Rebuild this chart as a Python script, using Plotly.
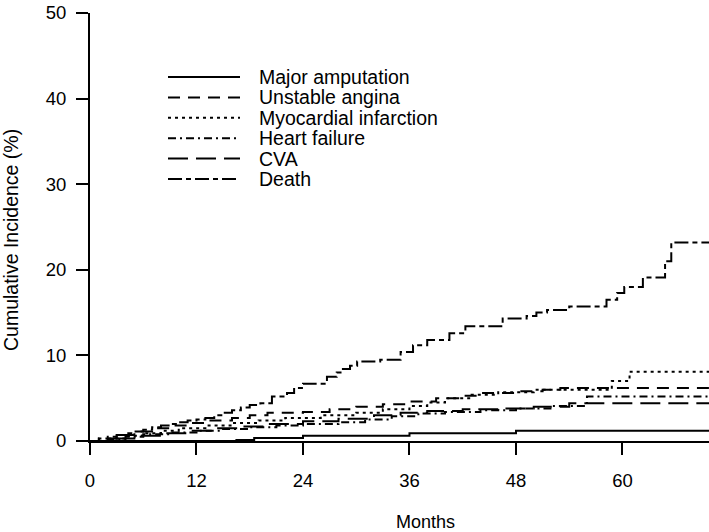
import plotly.graph_objects as go

# ---- data --------------------------------------------------------------
amp_t = [0, 16.5, 18.5, 24, 36, 48, 70]
amp_v = [0, 0.12, 0.35, 0.6, 0.9, 1.2, 1.2]

ua_t = [0, 1, 3, 5, 7, 9, 11, 13, 16, 18, 20, 24, 27, 30, 33, 36, 39, 42, 44, 48, 51, 53, 70]
ua_v = [0, 0.3, 0.7, 1.1, 1.5, 1.8, 2.1, 2.4, 2.7, 3.0, 3.3, 3.4, 3.7, 4.0, 4.3, 4.6, 5.0, 5.3, 5.6, 5.8, 6.0, 6.2, 6.2]

mi_t = [0, 2, 4, 6, 8, 10, 13, 16, 19, 22, 26, 30, 33, 36, 38, 40, 43, 46, 50, 58.8, 60.8, 70]
mi_v = [0, 0.3, 0.6, 0.9, 1.2, 1.5, 1.8, 2.1, 2.4, 2.7, 3.0, 3.3, 3.7, 4.1, 4.5, 5.0, 5.4, 5.7, 6.0, 7.0, 8.1, 8.1]

hf_t = [0, 2, 4, 6, 9, 12, 15, 18, 21, 24, 28, 31, 34, 37, 40, 44, 48, 52, 56, 70]
hf_v = [0, 0.2, 0.5, 0.8, 1.0, 1.2, 1.4, 1.6, 1.8, 2.0, 2.2, 2.5, 2.9, 3.2, 3.4, 3.6, 3.8, 4.1, 5.2, 5.2]

cva_t = [0, 2, 5, 8, 11, 14, 17, 20, 24, 28, 32, 35, 38, 42, 46, 50, 54, 70]
cva_v = [0, 0.3, 0.6, 0.9, 1.2, 1.5, 1.7, 2.0, 2.3, 2.6, 3.0, 3.3, 3.5, 3.7, 3.8, 4.0, 4.4, 4.4]

death_t = [0, 1, 2, 3, 4, 5, 6, 7, 8, 9, 10, 11, 12, 13, 14, 15, 16, 17, 18, 19.2, 20.5, 22.2,
           23, 24, 26.7, 27.8, 28.5, 29.3, 30.1, 32.7, 35, 36.4, 38, 40.5, 42.3, 46.5, 49.2,
           50.3, 51.5, 54, 58.2, 59.4, 60.2, 62.3, 64.8, 65.5, 70]
death_v = [0, 0.3, 0.5, 0.7, 0.9, 1.1, 1.3, 1.6, 1.8, 2.0, 2.2, 2.4, 2.5, 2.7, 3.0, 3.3, 3.6,
           3.9, 4.2, 4.4, 5.2, 5.6, 6.2, 6.7, 7.5, 8.0, 8.4, 8.8, 9.3, 9.5, 10.4, 11.2, 11.8,
           12.6, 13.4, 14.3, 14.6, 15.0, 15.3, 15.7, 16.5, 17.3, 18.0, 19.1, 21.0, 23.2, 23.2]

names = ["Major amputation", "Unstable angina", "Myocardial infarction",
         "Heart failure", "CVA", "Death"]
series = [(amp_t, amp_v), (ua_t, ua_v), (mi_t, mi_v),
          (hf_t, hf_v), (cva_t, cva_v), (death_t, death_v)]
dashes = ["solid", "12px,8px", "3px,4px", "8px,4px,2px,4px", "20px,8px", "14px,4px,5px,4px"]

x_ticks = [0, 12, 24, 36, 48, 60]
y_ticks = [0, 10, 20, 30, 40, 50]

# ---- figure --------------------------------------------------------------
W, H = 709, 532
L, R, T, B = 90, 0, 13, 91
PW, PH = W - L - R, H - T - B
FONT = "Arial, Liberation Sans, sans-serif"


def px(x):  # pixel -> paper x
    return (x - L) / PW


def py(y):  # pixel -> paper y
    return (H - B - y) / PH


fig = go.Figure()
for name, (t, v), d in zip(names, series, dashes):
    fig.add_trace(go.Scatter(x=t, y=v, mode="lines", name=name,
                             line=dict(color="black", width=2, dash=d, shape="hv"),
                             hoverinfo="skip"))

# hand-drawn legend like the original
shapes = []
annotations = []
for i, (name, d) in enumerate(zip(names, dashes)):
    y = 77 + 20.4 * i
    shapes.append(dict(type="line", xref="paper", yref="paper",
                       x0=px(168), x1=px(240), y0=py(y), y1=py(y),
                       line=dict(color="black", width=2, dash=d)))
    annotations.append(dict(text=name, xref="paper", yref="paper", x=px(257), y=py(y),
                            xanchor="left", yanchor="middle", showarrow=False,
                            font=dict(size=19.5, color="black", family=FONT)))

annotations.append(dict(text="Months", xref="paper", yref="paper", x=px(425), y=py(522),
                        xanchor="center", yanchor="middle", showarrow=False,
                        font=dict(size=18, color="black", family=FONT)))
annotations.append(dict(text="Cumulative Incidence (%)", xref="paper", yref="paper",
                        x=px(11), y=py(240), textangle=-90, xanchor="center",
                        yanchor="middle", showarrow=False,
                        font=dict(size=19.5, color="black", family=FONT)))

fig.update_layout(
    width=W, height=H,
    margin=dict(l=L, r=R, t=T, b=B),
    plot_bgcolor="white", paper_bgcolor="white",
    showlegend=False,
    font=dict(family=FONT, size=18, color="black"),
    shapes=shapes, annotations=annotations,
)
fig.update_xaxes(range=[0, 69.75], tickvals=x_ticks, showgrid=False, zeroline=False,
                 showline=True, linecolor="black", linewidth=2,
                 ticks="outside", ticklen=12, tickwidth=2, tickcolor="black",
                 ticklabelstandoff=10, tickfont=dict(size=18.5))
fig.update_yaxes(range=[0, 50], tickvals=y_ticks, showgrid=False, zeroline=False,
                 showline=True, linecolor="black", linewidth=2,
                 ticks="outside", ticklen=12, tickwidth=2, tickcolor="black",
                 ticklabelstandoff=6, tickfont=dict(size=18.5))

# the page's default body margin would push the 709x532 figure off the window
fig.write_html("out.html", config={"displayModeBar": False},
               post_script="document.body.style.margin='0';")
